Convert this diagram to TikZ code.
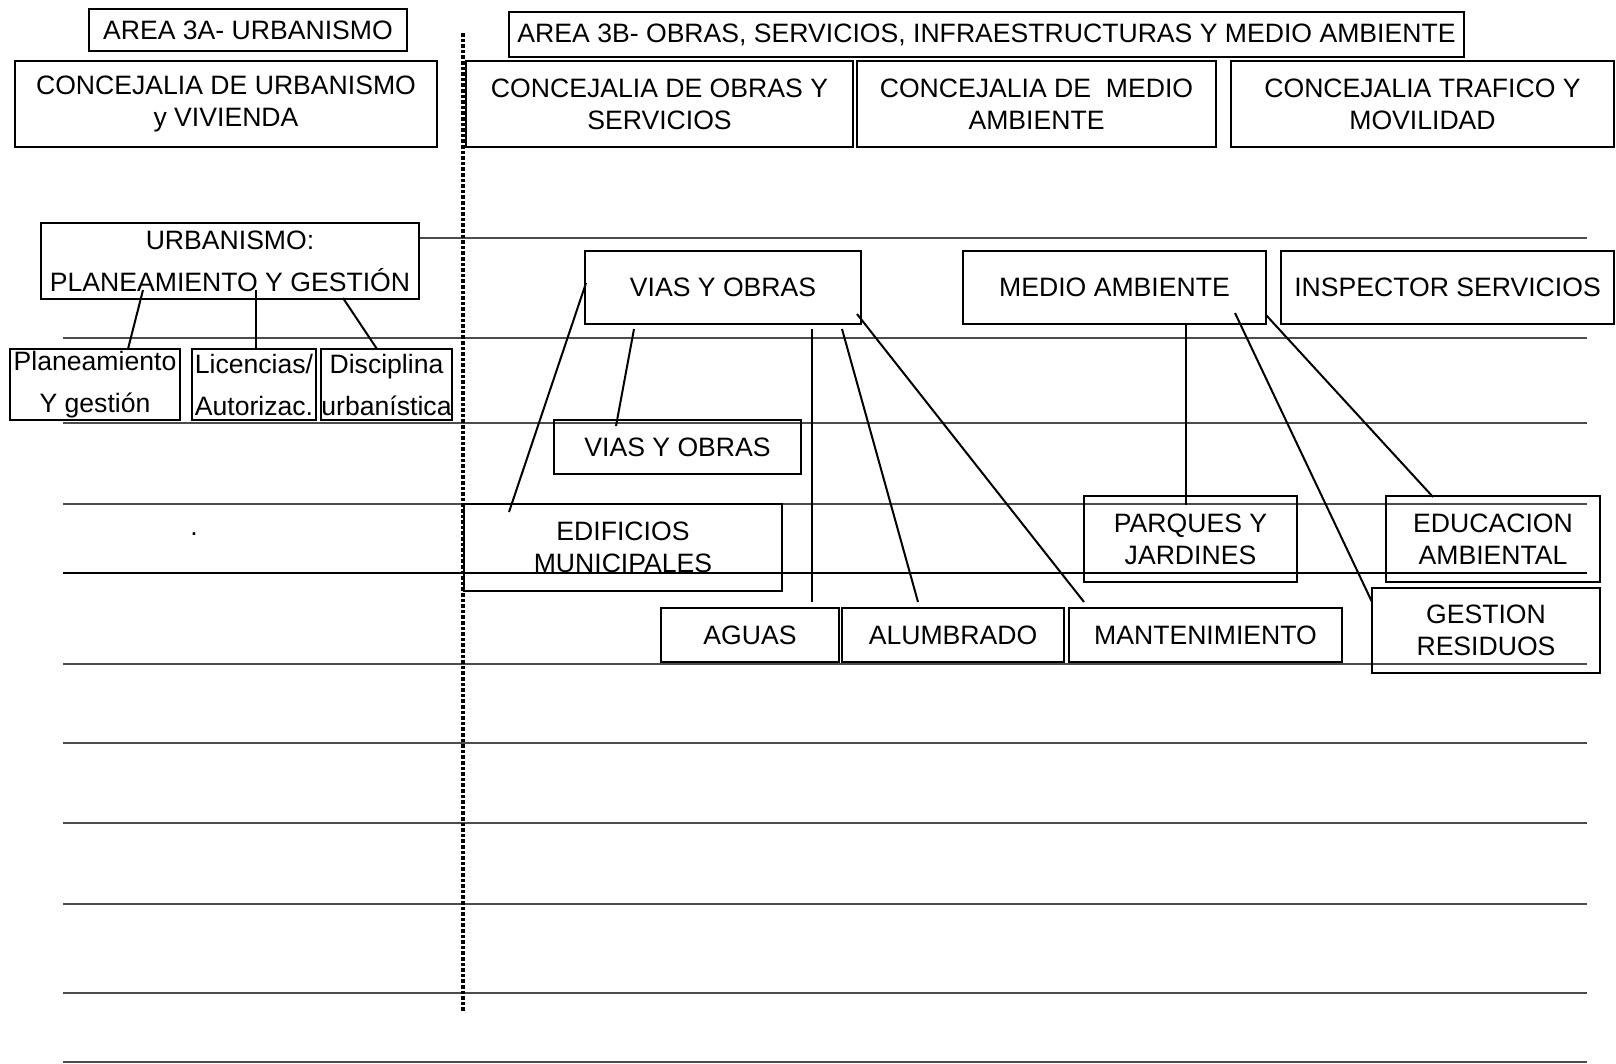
\documentclass[tikz,border=0pt]{standalone}
\usepackage{fontspec}
\setmainfont{Liberation Sans}
\usetikzlibrary{calc}

\begin{document}
\begin{tikzpicture}[x=0.5pt,y=-0.5pt,
caja/.style={rectangle,draw=black,line width=1pt,inner sep=0pt,outer sep=0pt,align=center,font=\fontsize{13.3}{16}\selectfont},
cajaalta/.style={caja,font=\fontsize{13.3}{21}\selectfont},
raya/.style={draw=black!70,line width=0.6pt},
divisoria/.style={line width=1.8pt,dash pattern=on 1.8pt off 1pt}]
\useasboundingbox (0,0) rectangle (1616,1064);
% renglones de fondo
\draw[raya] (419,238)--(1587,238);
\draw[raya] (63,338)--(1587,338);
\draw[raya] (63,423)--(1587,423);
\draw[raya] (63,504)--(1587,504);
\draw[raya,draw=black] (63,573)--(1587,573);
\draw[raya] (63,664)--(1587,664);
\draw[raya] (63,743)--(1587,743);
\draw[raya] (63,823)--(1587,823);
\draw[raya] (63,904)--(1587,904);
\draw[raya] (63,993)--(1587,993);
\draw[raya] (63,1062)--(1587,1062);
\draw[divisoria] (463,33)--(463,1012);
% areas y concejalias
\node[caja,minimum width=159pt,minimum height=21pt](area3a) at (248,30){AREA 3A- URBANISMO};
\node[caja,minimum width=477.5pt,minimum height=22.5pt](area3b) at (986.5,34.5){AREA 3B- OBRAS, SERVICIOS, INFRAESTRUCTURAS Y MEDIO AMBIENTE};
\node[caja,minimum width=211pt,minimum height=43pt](conurb) at (226,104){CONCEJALIA DE URBANISMO\\y VIVIENDA};
\node[caja,minimum width=193.5pt,minimum height=43pt](conobras) at (659.5,104){CONCEJALIA DE OBRAS Y\\SERVICIOS};
\node[caja,minimum width=179.5pt,minimum height=43pt](conmedio) at (1036.5,104){CONCEJALIA DE\ \ MEDIO\\AMBIENTE};
\node[caja,minimum width=191.5pt,minimum height=43pt](contrafico) at (1422.5,104){CONCEJALIA TRAFICO Y\\MOVILIDAD};
% urbanismo
\node[cajaalta,minimum width=189pt,minimum height=38pt](urb) at (230,261){URBANISMO:\\PLANEAMIENTO Y GESTIÓN};
\node[cajaalta,minimum width=85pt,minimum height=35.5pt](plan) at (95,384.5){Planeamiento\\Y gestión};
\node[cajaalta,minimum width=62pt,minimum height=35.5pt](lic) at (254,384.5){Licencias/\\Autorizac.};
\node[cajaalta,minimum width=63.5pt,minimum height=35.5pt](disc) at (386.5,384.5){Disciplina\\urbanística};
\node[font=\fontsize{13.3}{16}\selectfont,inner sep=0pt](punto) at (194,534){.};
% obras y servicios
\node[caja,minimum width=138pt,minimum height=36.5pt](vias) at (723,287.5){VIAS Y OBRAS};
\node[caja,minimum width=123.5pt,minimum height=27pt](viassub) at (677.5,447){VIAS Y OBRAS};
\node[caja,minimum width=159pt,minimum height=43.5pt](edif) at (623,547.5){EDIFICIOS\\MUNICIPALES};
\node[caja,minimum width=89pt,minimum height=27pt](aguas) at (750,635){AGUAS};
\node[caja,minimum width=111pt,minimum height=27pt](alumb) at (953,635){ALUMBRADO};
\node[caja,minimum width=136.5pt,minimum height=27pt](mant) at (1205.5,635){MANTENIMIENTO};
% medio ambiente
\node[caja,minimum width=151.5pt,minimum height=36.5pt](medio) at (1114.5,287.5){MEDIO AMBIENTE};
\node[caja,minimum width=166.5pt,minimum height=36.5pt](insp) at (1447.5,287.5){INSPECTOR SERVICIOS};
\node[caja,minimum width=106.5pt,minimum height=43pt](parques) at (1190.5,539){PARQUES Y\\JARDINES};
\node[caja,minimum width=107pt,minimum height=43pt](educ) at (1493,539){EDUCACION\\AMBIENTAL};
\node[caja,minimum width=114pt,minimum height=42.5pt](gest) at (1486,630.5){GESTION\\RESIDUOS};
\begin{scope}[line width=1pt]
\draw ($(urb.south)+(-87,-9)$)--($(plan.north)+(33,0)$);
\draw ($(urb.south)+(26,-9)$)--($(lic.north)+(2,0)$);
\draw ($(urb.south)+(113,-1)$)--($(disc.north)+(-9.5,0)$);
\draw ($(vias.west)+(1,-4.5)$)--($(edif.north west)+(45,8)$);
\draw ($(vias.south)+(-89,5)$)--($(viassub.north)+(-61.5,6)$);
\draw ($(vias.south)+(89,5)$)--($(aguas.north)+(62,-6)$);
\draw ($(vias.south)+(119,5)$)--($(alumb.north)+(-35,-6)$);
\draw ($(vias.south east)+(-4,-10)$)--($(mant.north west)+(15,-6)$);
\draw ($(medio.south)+(71.5,1)$)--($(parques.north)+(-4.5,9)$);
\draw ($(medio.south east)+(-31,-11)$)--($(gest.north west)+(0,14)$);
\draw ($(medio.south east)+(0,-9)$)--($(educ.north)+(-60,1)$);
\end{scope}
\end{tikzpicture}
\end{document}
